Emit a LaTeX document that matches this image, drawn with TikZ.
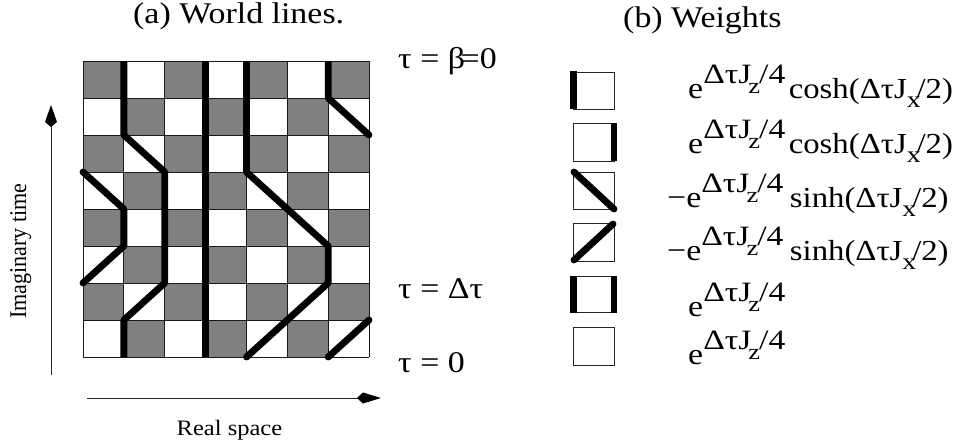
\documentclass[tikz,border=0pt]{standalone}
\usepackage{fontspec}
\setmainfont{Liberation Serif}
\newfontfamily\widefam[FakeStretch=1.13]{Liberation Serif}
\newfontfamily\expfam[FakeStretch=1.2]{Liberation Serif}
\newfontfamily\realfam[FakeStretch=1.115]{Liberation Serif}
\newfontfamily\imagfam[FakeStretch=0.92]{Liberation Serif}
\tikzset{
  cell/.style={draw=black!90,line width=1pt},
  wl/.style={line width=6.8pt,line cap=butt,line join=round},
  wldot/.style={fill=black,draw=none},
  thin box/.style={draw=black!85,line width=1pt},
  axis/.style={draw=black!85,line width=1pt},
  tip/.style={fill=black,draw=none},
  lab/.style={inner sep=0pt,anchor=base west,font=\widefam\fontsize{30}{30}\selectfont},
  small/.style={inner sep=0pt,anchor=base},
}
\newcommand{\wexp}{\raisebox{15pt}{\expfam\fontsize{28}{28}\selectfont ΔτJ\hspace{-3pt}\raisebox{-10pt}{\fontsize{22}{22}\selectfont z}\hspace{-1pt}/4}}
\newcommand{\wsub}{\raisebox{-9pt}{\expfam\fontsize{23}{23}\selectfont x}\hspace{-4pt}}
\newcommand{\wtail}[2]{\hspace{#1}{\fontsize{29}{29}\selectfont #2(ΔτJ\wsub/2)}}
\begin{document}
\begin{tikzpicture}[x=1pt,y=-1pt]
\useasboundingbox (0,0) rectangle (957,447);
% grid: origin at (83,61), cells 40.86 x 37
\begin{scope}[shift={(83,61)},x=40.86pt,y=-37pt]
\foreach \c in {0,...,6}{\foreach \r in {0,...,7}{
  \pgfmathparse{int(mod(\c+\r,2))}
  \ifnum\pgfmathresult=0 \fill[black!50] (\c,\r) rectangle ++(1,1);\fi
}}
\foreach \c in {0,...,7}{\draw[cell] (\c,0) -- (\c,8);}
\foreach \r in {0,...,8}{\draw[cell] (0,\r) -- (7,\r);}
\draw[wl] (1,0)--(1,2)--(2,3)--(2,6)--(1,7)--(1,8);
\draw[wl] (0,3)--(1,4)--(1,5)--(0,6);
\fill[wldot] (0,3) circle[radius=3.4pt] (0,6) circle[radius=3.4pt];
\draw[wl] (3,0)--(3,8);
\draw[wl] (4,0)--(4,3)--(6,5)--(6,6)--(4,8);
\fill[wldot] (4,8) circle[radius=3.4pt];
\draw[wl] (6,0)--(6,1)--(7,2);
\fill[wldot] (7,2) circle[radius=3.4pt];
\draw[wl] (6,8)--(7,7);
\fill[wldot] (6,8) circle[radius=3.4pt] (7,7) circle[radius=3.4pt];
\end{scope}
% axes
\coordinate (ya) at (51,375);
\coordinate (yb) at (51,122);
\draw[axis] (ya)--(yb);
\fill[tip] (51,105)--(45,122)--(51,127)--(57,122)--cycle;
\coordinate (xa) at (87,398);
\coordinate (xb) at (365,398);
\draw[axis] (xa)--(xb);
\fill[tip] (381,398)--(363,392.5)--(357,398)--(363,403.5)--cycle;
\node[small,rotate=90,font=\imagfam\fontsize{24}{24}\selectfont] (yl) at (26,251) {Imaginary time};
\node[small,font=\realfam\fontsize{22}{22}\selectfont] (xl) at (229.5,435) {Real space};
% titles
\node[lab] (ta) at (133,23) {(a) World lines.};
\node[lab] (tb) at (623,27) {(b) Weights};
\node[lab] (t1) at (398,68) {τ = β\hspace{-4.5pt}=0};
\node[lab] (t2) at (398,298) {τ = Δτ};
\node[lab] (t3) at (398,372) {τ = 0};
% weight boxes
\draw[thin box] (573,72) rectangle (614,109);
\draw[thin box] (573,123) rectangle (614,161);
\draw[thin box] (573,172) rectangle (614,209);
\draw[thin box] (573,223) rectangle (614,261);
\draw[thin box] (573,276) rectangle (614,312);
\draw[thin box] (573,327) rectangle (614,365);
\draw[wl] (573.5,71) -- (573.5,109);
\draw[wl] (614,123) -- (614,161);
\draw[wl,line cap=round] (574,172) -- (614,209);
\draw[wl,line cap=round] (574,260) -- (613,224);
\draw[wl] (573.5,276) -- (573.5,313);
\draw[wl] (614,276) -- (614,313);
% weights
\node[lab] (w1) at (688,98) {e\wexp\wtail{3.5pt}{cosh}};
\node[lab] (w2) at (688,153) {e\wexp\wtail{3.5pt}{cosh}};
\node[lab] (w3) at (667,207) {−e\wexp\wtail{6.5pt}{sinh}};
\node[lab] (w4) at (667,260) {−e\wexp\wtail{6.5pt}{sinh}};
\node[lab] (w5) at (688,316) {e\wexp};
\node[lab] (w6) at (688,364) {e\wexp};
\end{tikzpicture}
\end{document}
